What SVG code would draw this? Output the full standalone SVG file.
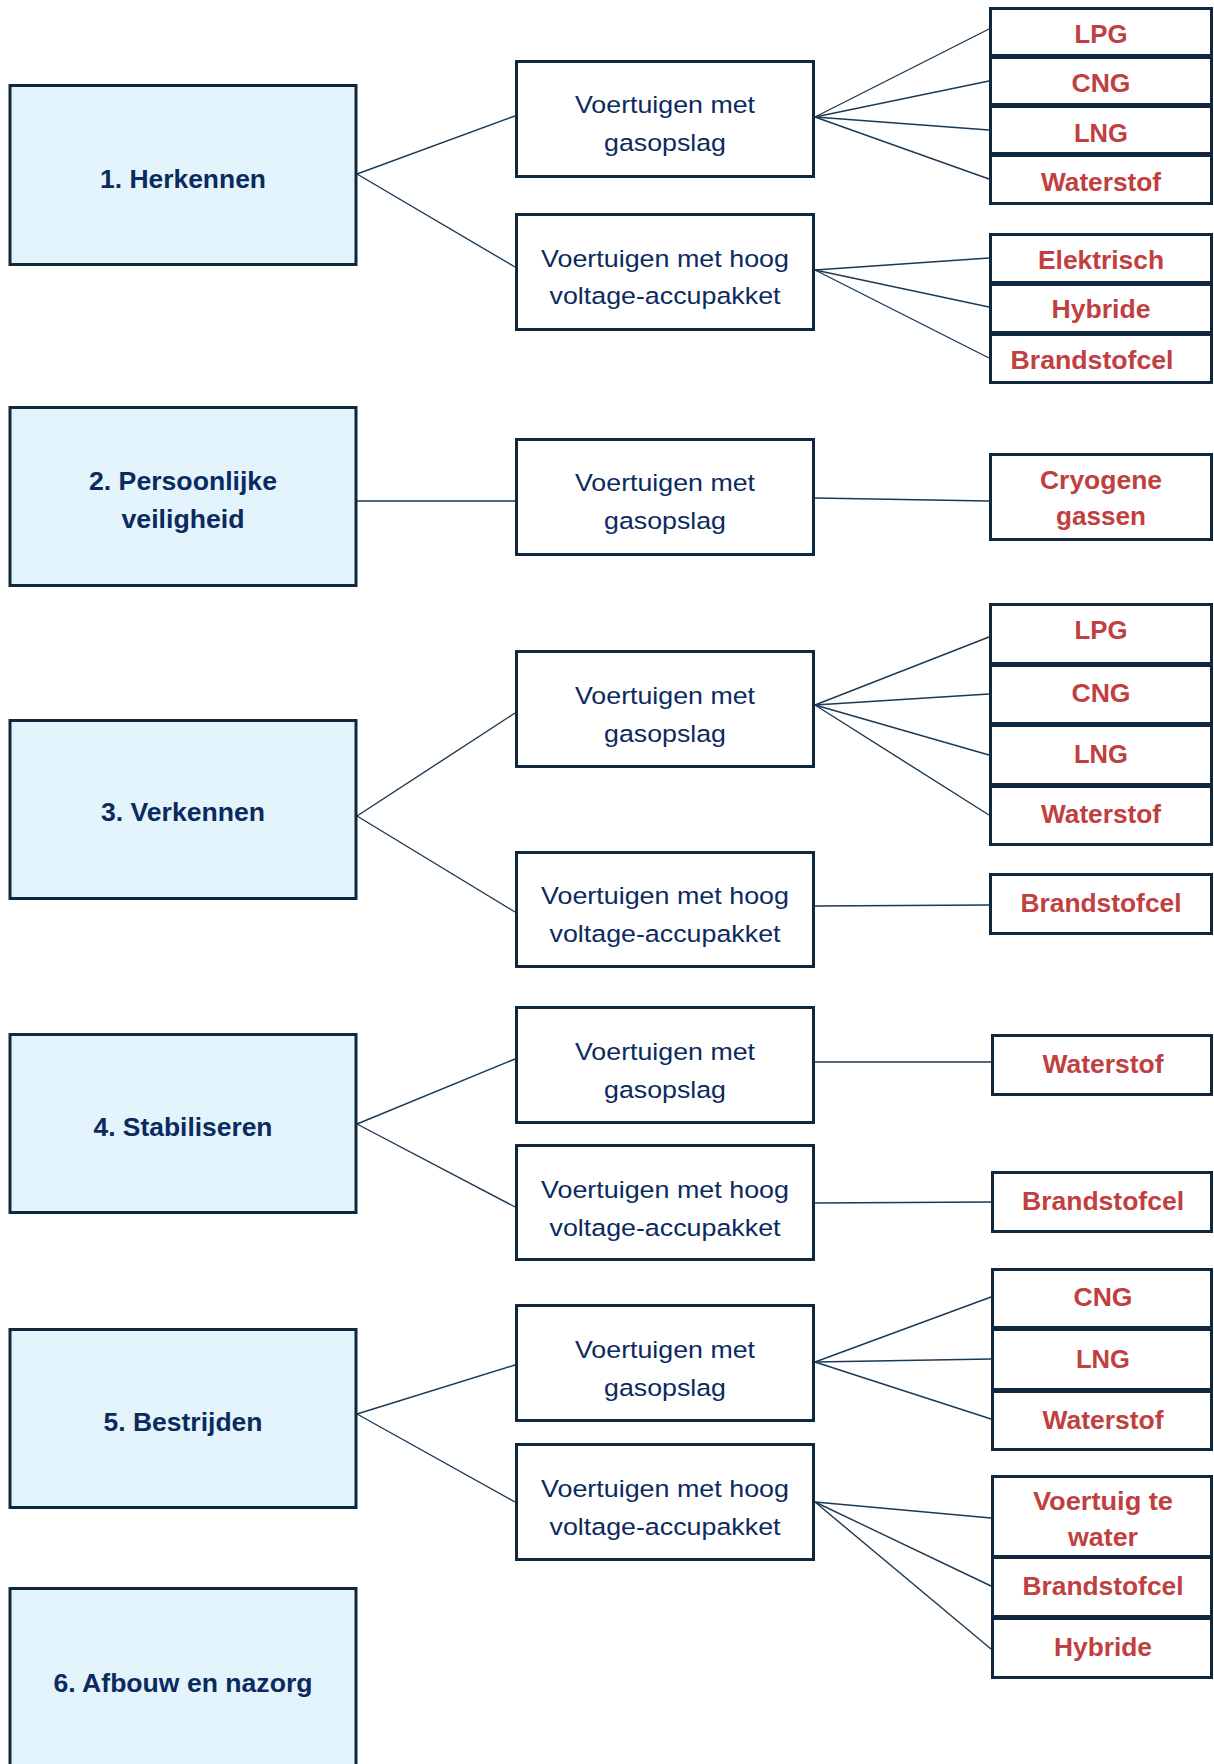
<svg xmlns="http://www.w3.org/2000/svg" width="1214" height="1764" viewBox="0 0 1214 1764">
  <style>
    .phase rect { fill: #e3f4fc; stroke: #0f283d; stroke-width: 3; }
    .vehicle rect { fill: #ffffff; stroke: #0f283d; stroke-width: 3; }
    .fuel rect { fill: #ffffff; stroke: #0f283d; stroke-width: 3; }
    .phase text { font-family: "Liberation Sans", Arial, sans-serif; font-weight: bold; font-size: 25px; fill: #0b2a5e; text-anchor: middle; }
    .vehicle text { font-family: "Liberation Sans", Arial, sans-serif; font-size: 24.5px; fill: #0b2a5e; text-anchor: middle; }
    .fuel text { font-family: "Liberation Sans", Arial, sans-serif; font-weight: bold; font-size: 25px; fill: #c0403f; text-anchor: middle; }
    #connectors line { stroke: #1a3a55; stroke-width: 1.4; }
  </style>
  <rect width="1214" height="1764" fill="#ffffff"/>

  <!-- connectors -->
  <g id="connectors">
    <!-- 1. Herkennen -->
    <line x1="357" y1="174" x2="515" y2="116"/>
    <line x1="357" y1="174" x2="515" y2="267"/>
    <line x1="815" y1="117" x2="989" y2="29"/>
    <line x1="815" y1="117" x2="989" y2="81"/>
    <line x1="815" y1="117" x2="989" y2="130"/>
    <line x1="815" y1="117" x2="989" y2="179"/>
    <line x1="815" y1="270" x2="989" y2="258"/>
    <line x1="815" y1="270" x2="989" y2="307"/>
    <line x1="815" y1="270" x2="989" y2="358"/>
    <!-- 2. Persoonlijke veiligheid -->
    <line x1="357" y1="501" x2="515" y2="501"/>
    <line x1="815" y1="498" x2="989" y2="501"/>
    <!-- 3. Verkennen -->
    <line x1="357" y1="816" x2="515" y2="713"/>
    <line x1="357" y1="816" x2="515" y2="912"/>
    <line x1="815" y1="705" x2="989" y2="637"/>
    <line x1="815" y1="705" x2="989" y2="694"/>
    <line x1="815" y1="705" x2="989" y2="755"/>
    <line x1="815" y1="705" x2="989" y2="815"/>
    <line x1="815" y1="906" x2="989" y2="905"/>
    <!-- 4. Stabiliseren -->
    <line x1="357" y1="1124" x2="515" y2="1059"/>
    <line x1="357" y1="1124" x2="515" y2="1207"/>
    <line x1="815" y1="1062" x2="991" y2="1062"/>
    <line x1="815" y1="1203" x2="991" y2="1202"/>
    <!-- 5. Bestrijden -->
    <line x1="357" y1="1414" x2="515" y2="1365"/>
    <line x1="357" y1="1414" x2="515" y2="1502"/>
    <line x1="815" y1="1362" x2="991" y2="1297"/>
    <line x1="815" y1="1362" x2="991" y2="1359"/>
    <line x1="815" y1="1362" x2="991" y2="1419"/>
    <line x1="815" y1="1502" x2="991" y2="1518"/>
    <line x1="815" y1="1502" x2="991" y2="1586"/>
    <line x1="815" y1="1502" x2="991" y2="1649"/>
  </g>

  <!-- phases -->
  <g id="phase-1" class="phase">
    <rect x="10" y="85.5" width="346" height="179"/>
    <text x="183" y="188" textLength="166" lengthAdjust="spacingAndGlyphs">1. Herkennen</text>
  </g>
  <g id="phase-2" class="phase">
    <rect x="10" y="407.5" width="346" height="178"/>
    <text x="183" y="490" textLength="188" lengthAdjust="spacingAndGlyphs">2. Persoonlijke</text>
    <text x="183" y="528" textLength="123" lengthAdjust="spacingAndGlyphs">veiligheid</text>
  </g>
  <g id="phase-3" class="phase">
    <rect x="10" y="720.5" width="346" height="178"/>
    <text x="183" y="821" textLength="164" lengthAdjust="spacingAndGlyphs">3. Verkennen</text>
  </g>
  <g id="phase-4" class="phase">
    <rect x="10" y="1034.5" width="346" height="178"/>
    <text x="183" y="1136" textLength="179" lengthAdjust="spacingAndGlyphs">4. Stabiliseren</text>
  </g>
  <g id="phase-5" class="phase">
    <rect x="10" y="1329.5" width="346" height="178"/>
    <text x="183" y="1431" textLength="159" lengthAdjust="spacingAndGlyphs">5. Bestrijden</text>
  </g>
  <g id="phase-6" class="phase">
    <rect x="10" y="1588.5" width="346" height="190"/>
    <text x="183" y="1692" textLength="259" lengthAdjust="spacingAndGlyphs">6. Afbouw en nazorg</text>
  </g>

  <!-- vehicle types -->
  <g id="v1-gas" class="vehicle">
    <rect x="516.5" y="61.5" width="297" height="115"/>
    <text x="665" y="113" textLength="180" lengthAdjust="spacingAndGlyphs">Voertuigen met</text>
    <text x="665" y="151" textLength="122" lengthAdjust="spacingAndGlyphs">gasopslag</text>
  </g>
  <g id="v1-hv" class="vehicle">
    <rect x="516.5" y="214.5" width="297" height="115"/>
    <text x="665" y="267" textLength="248" lengthAdjust="spacingAndGlyphs">Voertuigen met hoog</text>
    <text x="665" y="304" textLength="231" lengthAdjust="spacingAndGlyphs">voltage-accupakket</text>
  </g>
  <g id="v2-gas" class="vehicle">
    <rect x="516.5" y="439.5" width="297" height="115"/>
    <text x="665" y="491" textLength="180" lengthAdjust="spacingAndGlyphs">Voertuigen met</text>
    <text x="665" y="529" textLength="122" lengthAdjust="spacingAndGlyphs">gasopslag</text>
  </g>
  <g id="v3-gas" class="vehicle">
    <rect x="516.5" y="651.5" width="297" height="115"/>
    <text x="665" y="704" textLength="180" lengthAdjust="spacingAndGlyphs">Voertuigen met</text>
    <text x="665" y="742" textLength="122" lengthAdjust="spacingAndGlyphs">gasopslag</text>
  </g>
  <g id="v3-hv" class="vehicle">
    <rect x="516.5" y="852.5" width="297" height="114"/>
    <text x="665" y="904" textLength="248" lengthAdjust="spacingAndGlyphs">Voertuigen met hoog</text>
    <text x="665" y="942" textLength="231" lengthAdjust="spacingAndGlyphs">voltage-accupakket</text>
  </g>
  <g id="v4-gas" class="vehicle">
    <rect x="516.5" y="1007.5" width="297" height="115"/>
    <text x="665" y="1060" textLength="180" lengthAdjust="spacingAndGlyphs">Voertuigen met</text>
    <text x="665" y="1098" textLength="122" lengthAdjust="spacingAndGlyphs">gasopslag</text>
  </g>
  <g id="v4-hv" class="vehicle">
    <rect x="516.5" y="1145.5" width="297" height="114"/>
    <text x="665" y="1198" textLength="248" lengthAdjust="spacingAndGlyphs">Voertuigen met hoog</text>
    <text x="665" y="1236" textLength="231" lengthAdjust="spacingAndGlyphs">voltage-accupakket</text>
  </g>
  <g id="v5-gas" class="vehicle">
    <rect x="516.5" y="1305.5" width="297" height="115"/>
    <text x="665" y="1358" textLength="180" lengthAdjust="spacingAndGlyphs">Voertuigen met</text>
    <text x="665" y="1396" textLength="122" lengthAdjust="spacingAndGlyphs">gasopslag</text>
  </g>
  <g id="v5-hv" class="vehicle">
    <rect x="516.5" y="1444.5" width="297" height="115"/>
    <text x="665" y="1497" textLength="248" lengthAdjust="spacingAndGlyphs">Voertuigen met hoog</text>
    <text x="665" y="1535" textLength="231" lengthAdjust="spacingAndGlyphs">voltage-accupakket</text>
  </g>

  <!-- fuel / drive types -->
  <g id="f1-lpg" class="fuel"><rect x="990.5" y="8.5" width="221" height="47"/><text x="1101" y="43" textLength="53" lengthAdjust="spacingAndGlyphs">LPG</text></g>
  <g id="f1-cng" class="fuel"><rect x="990.5" y="57.5" width="221" height="47"/><text x="1101" y="92" textLength="59" lengthAdjust="spacingAndGlyphs">CNG</text></g>
  <g id="f1-lng" class="fuel"><rect x="990.5" y="106.5" width="221" height="47"/><text x="1101" y="142" textLength="54" lengthAdjust="spacingAndGlyphs">LNG</text></g>
  <g id="f1-h2" class="fuel"><rect x="990.5" y="155.5" width="221" height="48"/><text x="1101" y="191" textLength="120" lengthAdjust="spacingAndGlyphs">Waterstof</text></g>
  <g id="f1-ev" class="fuel"><rect x="990.5" y="234.5" width="221" height="48"/><text x="1101" y="269" textLength="126" lengthAdjust="spacingAndGlyphs">Elektrisch</text></g>
  <g id="f1-hyb" class="fuel"><rect x="990.5" y="284.5" width="221" height="48"/><text x="1101" y="318" textLength="99" lengthAdjust="spacingAndGlyphs">Hybride</text></g>
  <g id="f1-fc" class="fuel"><rect x="990.5" y="334.5" width="221" height="48"/><text x="1092" y="369" textLength="163" lengthAdjust="spacingAndGlyphs">Brandstofcel</text></g>

  <g id="f2-cryo" class="fuel">
    <rect x="990.5" y="454.5" width="221" height="85"/>
    <text x="1101" y="489" textLength="122" lengthAdjust="spacingAndGlyphs">Cryogene</text>
    <text x="1101" y="525" textLength="90" lengthAdjust="spacingAndGlyphs">gassen</text>
  </g>

  <g id="f3-lpg" class="fuel"><rect x="990.5" y="604.5" width="221" height="59"/><text x="1101" y="639" textLength="53" lengthAdjust="spacingAndGlyphs">LPG</text></g>
  <g id="f3-cng" class="fuel"><rect x="990.5" y="665.5" width="221" height="58"/><text x="1101" y="702" textLength="59" lengthAdjust="spacingAndGlyphs">CNG</text></g>
  <g id="f3-lng" class="fuel"><rect x="990.5" y="725.5" width="221" height="59"/><text x="1101" y="763" textLength="54" lengthAdjust="spacingAndGlyphs">LNG</text></g>
  <g id="f3-h2" class="fuel"><rect x="990.5" y="786.5" width="221" height="58"/><text x="1101" y="823" textLength="120" lengthAdjust="spacingAndGlyphs">Waterstof</text></g>
  <g id="f3-fc" class="fuel"><rect x="990.5" y="874.5" width="221" height="59"/><text x="1101" y="912" textLength="161" lengthAdjust="spacingAndGlyphs">Brandstofcel</text></g>

  <g id="f4-h2" class="fuel"><rect x="992.5" y="1035.5" width="219" height="59"/><text x="1103" y="1073" textLength="121" lengthAdjust="spacingAndGlyphs">Waterstof</text></g>
  <g id="f4-fc" class="fuel"><rect x="992.5" y="1172.5" width="219" height="59"/><text x="1103" y="1210" textLength="162" lengthAdjust="spacingAndGlyphs">Brandstofcel</text></g>

  <g id="f5-cng" class="fuel"><rect x="992.5" y="1269.5" width="219" height="58"/><text x="1103" y="1306" textLength="59" lengthAdjust="spacingAndGlyphs">CNG</text></g>
  <g id="f5-lng" class="fuel"><rect x="992.5" y="1329.5" width="219" height="60"/><text x="1103" y="1368" textLength="54" lengthAdjust="spacingAndGlyphs">LNG</text></g>
  <g id="f5-h2" class="fuel"><rect x="992.5" y="1391.5" width="219" height="58"/><text x="1103" y="1429" textLength="121" lengthAdjust="spacingAndGlyphs">Waterstof</text></g>
  <g id="f5-water" class="fuel">
    <rect x="992.5" y="1476.5" width="219" height="80"/>
    <text x="1103" y="1510" textLength="140" lengthAdjust="spacingAndGlyphs">Voertuig te</text>
    <text x="1103" y="1546" textLength="70" lengthAdjust="spacingAndGlyphs">water</text>
  </g>
  <g id="f5-fc" class="fuel"><rect x="992.5" y="1557.5" width="219" height="59"/><text x="1103" y="1595" textLength="161" lengthAdjust="spacingAndGlyphs">Brandstofcel</text></g>
  <g id="f5-hyb" class="fuel"><rect x="992.5" y="1618.5" width="219" height="59"/><text x="1103" y="1656" textLength="98" lengthAdjust="spacingAndGlyphs">Hybride</text></g>
</svg>
